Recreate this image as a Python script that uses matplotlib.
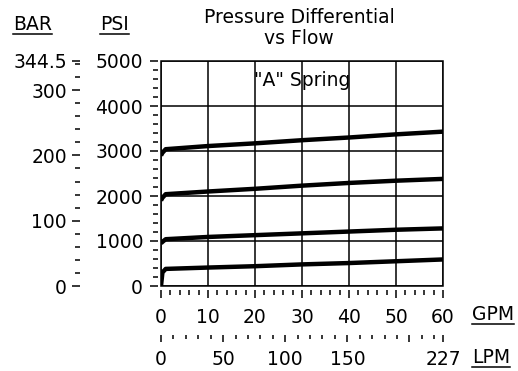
import numpy as np
import matplotlib.pyplot as plt
from matplotlib.ticker import MultipleLocator, FixedLocator
from matplotlib.lines import Line2D

plt.rcParams['font.family'] = 'DejaVu Sans'

# flow in GPM, pressure differential in PSI for each of the four settings
flow = [0, 0.3, 1, 10, 20, 30, 40, 50, 60]
psi_3000 = [2900, 2960, 3040, 3110, 3170, 3240, 3300, 3370, 3430]
psi_2000 = [1900, 1960, 2040, 2100, 2160, 2230, 2290, 2340, 2380]
psi_1000 = [950, 980, 1040, 1090, 1130, 1170, 1210, 1250, 1280]
psi_0 = [0, 300, 380, 410, 440, 480, 510, 550, 590]

bar_ticks = [0, 100, 200, 300, 344.5]
bar_labels = ["0", "100", "200", "300", "344.5"]
lpm_ticks = [0, 50, 100, 150, 200, 227]
lpm_labels = ["0", "50", "100", "150", "", "227"]

fs = 13.5
W, H = 518, 371
fig = plt.figure(figsize=(W/100, H/100), dpi=100)

def fx(px): return px / W
def fy(py): return 1 - py / H
def pt(px): return px * 0.72

L, R, T, B = 161, 443, 61, 286
ax = fig.add_axes([fx(L), fy(B), fx(R-L), fy(T)-fy(B)])
for y in [psi_3000, psi_2000, psi_1000, psi_0]:
    ax.plot(flow, y, color='black', lw=3.2, solid_capstyle='butt')
ax.set_xlim(0, 60)
ax.set_ylim(0, 5000)
ax.xaxis.set_major_locator(MultipleLocator(10))
ax.xaxis.set_minor_locator(MultipleLocator(2))
ax.yaxis.set_major_locator(MultipleLocator(1000))
ax.yaxis.set_minor_locator(MultipleLocator(200))
ax.grid(True, which='major', color='black', lw=1.1)
for s in ax.spines.values():
    s.set_visible(False)
ax.spines['left'].set_position(('outward', pt(3)))
ax.spines['bottom'].set_position(('outward', pt(4)))
ax.patch.set_edgecolor('black')
ax.patch.set_linewidth(1.1)
ax.tick_params(which='major', direction='out', length=pt(8), width=1.1, labelsize=fs)
ax.tick_params(which='minor', direction='out', length=pt(5), width=1.1)
ax.tick_params(axis='y', which='major', pad=pt(7))
ax.tick_params(axis='x', which='major', pad=7)
ax.text(0.5, 1 - (86 - T) / (B - T), '"A" Spring', transform=ax.transAxes,
        ha='center', va='baseline', fontsize=fs)

# BAR scale
axb = fig.add_axes([fx(80), fy(B), 0.001, fy(T)-fy(B)])
axb.set_ylim(0, 344.5)
axb.set_xticks([])
axb.yaxis.set_major_locator(FixedLocator(bar_ticks))
axb.set_yticklabels(bar_labels)
axb.yaxis.set_minor_locator(MultipleLocator(20))
for s in axb.spines.values():
    s.set_visible(False)
axb.patch.set_visible(False)
axb.tick_params(which='major', direction='out', length=pt(8), width=1.1, labelsize=fs, pad=pt(5))
axb.tick_params(which='minor', direction='out', length=pt(5), width=1.1)

# LPM scale
axl = fig.add_axes([fx(L), fy(335), fx(R-L), 0.001])
axl.set_xlim(0, 227)
axl.set_yticks([])
axl.xaxis.set_major_locator(FixedLocator(lpm_ticks))
axl.set_xticklabels(lpm_labels)
axl.xaxis.set_minor_locator(FixedLocator([v for v in range(0, 227, 10) if v % 50]))
for s in axl.spines.values():
    s.set_visible(False)
axl.patch.set_visible(False)
axl.tick_params(which='major', direction='out', length=pt(7), width=1.1, labelsize=fs, pad=5.5)
axl.tick_params(which='minor', direction='out', length=pt(4), width=1.1)

fig.text(fx(299), fy(23), "Pressure Differential", ha='center', va='baseline', fontsize=fs)
fig.text(fx(299), fy(44), "vs Flow", ha='center', va='baseline', fontsize=fs)

labels = [
    fig.text(fx(13), fy(30), "BAR", ha='left', va='baseline', fontsize=fs),
    fig.text(fx(100), fy(30), "PSI", ha='left', va='baseline', fontsize=fs),
    fig.text(fx(472), fy(320), "GPM", ha='left', va='baseline', fontsize=fs),
    fig.text(fx(472), fy(363), "LPM", ha='left', va='baseline', fontsize=fs),
]
fig.canvas.draw()
r = fig.canvas.get_renderer()
for t, base in zip(labels, [30, 30, 320, 363]):
    bb = t.get_window_extent(r).transformed(fig.transFigure.inverted())
    fig.add_artist(Line2D([bb.x0, bb.x1], [fy(base + 4), fy(base + 4)], color='black', lw=1.1))

fig.savefig("out.png", dpi=100)
